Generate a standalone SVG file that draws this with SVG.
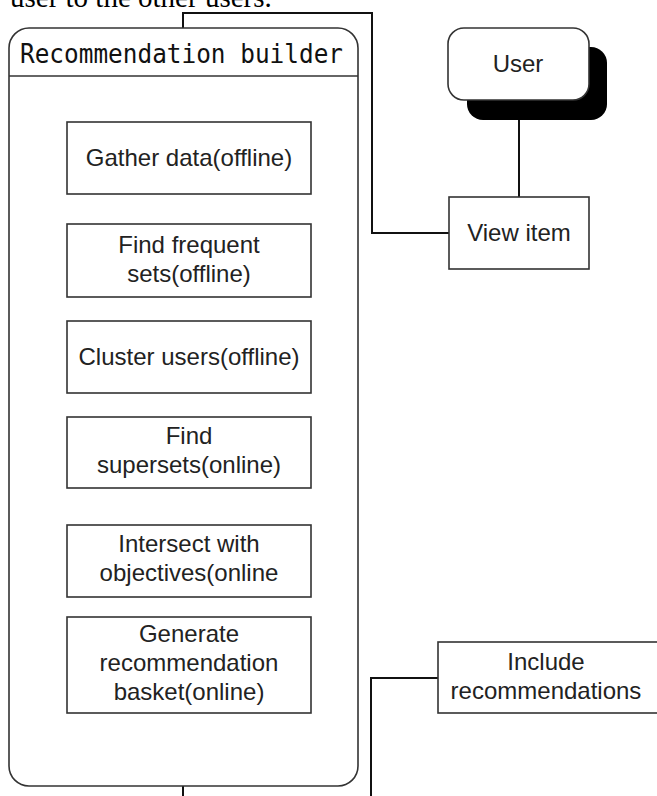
<svg xmlns="http://www.w3.org/2000/svg" width="657" height="796" viewBox="0 0 657 796">
<style>
.box{fill:#fff;stroke:#333;stroke-width:1.6}
.con{fill:none;stroke:#111;stroke-width:2}
.t{font-family:"Liberation Sans",Arial,sans-serif;font-size:24px;fill:#222;text-anchor:middle}
.mono{font-family:"DejaVu Sans Mono","Liberation Mono",monospace;font-size:26px;fill:#111}
.cap{font-family:"Liberation Serif","Times New Roman",serif;font-size:29px;fill:#000}
</style>
<rect width="657" height="796" fill="#fff"/>
<text class="cap" x="10" y="7">user to the other users.</text>
<g id="connectors">
<path class="con" d="M183,28 V13 H372 V233 H449"/>
<path class="con" d="M519,100 V197"/>
<path class="con" d="M438,678 H371 V796"/>
<path class="con" d="M183,786 V796"/>
</g>
<g id="recommendation-builder">
<rect class="box" x="9" y="28" width="349" height="758" rx="20"/>
<line x1="9" y1="76" x2="358" y2="76" stroke="#333" stroke-width="1.6"/>
<text class="mono" x="20" y="63" textLength="323" lengthAdjust="spacingAndGlyphs">Recommendation builder</text>
</g>
<g id="gather-data">
<rect class="box" x="67" y="122" width="244" height="72"/>
<text class="t" x="189" y="166">Gather data(offline)</text>
</g>
<g id="find-frequent">
<rect class="box" x="67" y="224" width="244" height="73"/>
<text class="t" x="189" y="253">Find frequent</text>
<text class="t" x="189" y="282">sets(offline)</text>
</g>
<g id="cluster-users">
<rect class="box" x="67" y="321" width="244" height="72"/>
<text class="t" x="189" y="365">Cluster users(offline)</text>
</g>
<g id="find-supersets">
<rect class="box" x="67" y="417" width="244" height="71"/>
<text class="t" x="189" y="444">Find</text>
<text class="t" x="189" y="473">supersets(online)</text>
</g>
<g id="intersect">
<rect class="box" x="67" y="525" width="244" height="72"/>
<text class="t" x="189" y="552">Intersect with</text>
<text class="t" x="189" y="581">objectives(online</text>
</g>
<g id="generate">
<rect class="box" x="67" y="617" width="244" height="96"/>
<text class="t" x="189" y="642">Generate</text>
<text class="t" x="189" y="671">recommendation</text>
<text class="t" x="189" y="700">basket(online)</text>
</g>
<g id="user">
<rect x="467" y="47" width="140" height="73" rx="16" fill="#000"/>
<rect class="box" x="448" y="28" width="141" height="72" rx="16"/>
<text class="t" x="518" y="72">User</text>
</g>
<g id="view-item">
<rect class="box" x="449" y="197" width="140" height="72"/>
<text class="t" x="519" y="241">View item</text>
</g>
<g id="include-recommendations">
<rect class="box" x="438" y="642" width="225" height="71"/>
<text class="t" x="546" y="670">Include</text>
<text class="t" x="546" y="699">recommendations</text>
</g>
</svg>
